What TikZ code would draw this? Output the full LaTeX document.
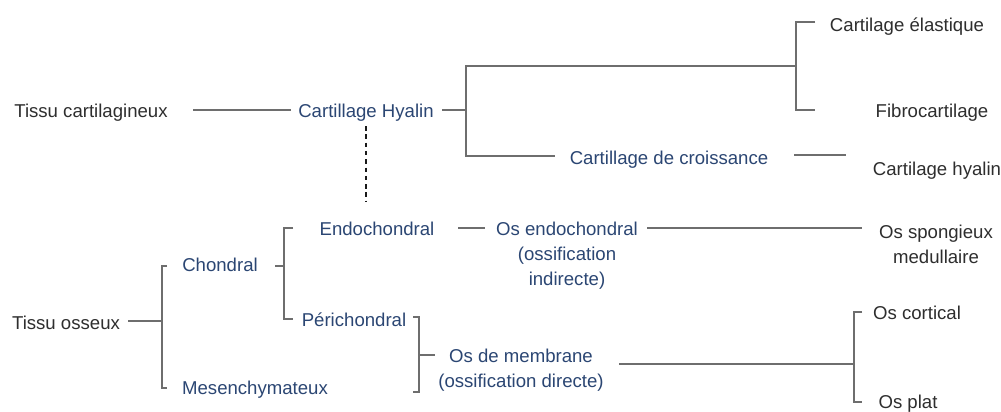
\documentclass[tikz,border=0pt]{standalone}
\usepackage{fontspec}
\setmainfont{Liberation Sans}
\begin{document}
\begin{tikzpicture}[x=1pt,y=-1pt,
  dark/.style={text=txtdark,font=\fontsize{18.6}{25}\selectfont,inner sep=0pt,anchor=mid,yshift=-4.5pt},
  blue/.style={text=txtblue,font=\fontsize{18.6}{25}\selectfont,inner sep=0pt,anchor=mid,yshift=-4.5pt},
  multi/.style={align=center,anchor=center,yshift=2pt},
  conn/.style={draw=linegray,line width=1.2pt},
  dots/.style={draw=black!90,line width=2pt,dash pattern=on 4.5pt off 3.8pt}]
\definecolor{txtdark}{HTML}{2E2E2E}
\definecolor{txtblue}{HTML}{2B4673}
\definecolor{linegray}{HTML}{6E6E6E}
\useasboundingbox[fill=white] (0,0) rectangle (1001,412);
% nodes
\node[dark] (tc) at (91,110) {Tissu cartilagineux};
\node[blue] (chy) at (366,110) {Cartillage Hyalin};
\node[dark] (cel) at (907,24) {Cartilage élastique};
\node[dark] (fib) at (932,110) {Fibrocartilage};
\node[blue] (ccr) at (669,157) {Cartillage de croissance};
\node[dark] (cha) at (937,168) {Cartilage hyalin};
\node[blue] (endo) at (377,228) {Endochondral};
\node[blue] (chon) at (220,264) {Chondral};
\node[blue] (peri) at (354,319) {Périchondral};
\node[dark] (tos) at (66,322) {Tissu osseux};
\node[blue] (mes) at (255,387) {Mesenchymateux};
\node[blue,multi] (osendo) at (567,253) {Os endochondral\\(ossification\\indirecte)};
\node[blue,multi] (osmem) at (521,368) {Os de membrane\\(ossification directe)};
\node[dark,multi] (osspo) at (936,242) {Os spongieux\\medullaire};
\node[dark] (oscor) at (917,312) {Os cortical};
\node[dark] (osplat) at (908,401) {Os plat};
% coordinates
\coordinate (a1) at (193,110); \coordinate (a2) at (291,110);
\coordinate (b1) at (442,110); \coordinate (b2) at (466,110);
\coordinate (bt) at (466,66); \coordinate (bb) at (466,156);
\coordinate (btr) at (796,66); \coordinate (bbr) at (555,156);
\coordinate (ct) at (815,22); \coordinate (cb) at (815,110);
\coordinate (cvt) at (796,22); \coordinate (cvb) at (796,110);
\coordinate (d1) at (794,155); \coordinate (d2) at (846,155);
\coordinate (e1) at (366,126); \coordinate (e2) at (366,201);
\coordinate (f1) at (458,228); \coordinate (f2) at (485,228);
\coordinate (g1) at (647,228); \coordinate (g2) at (862,228);
\coordinate (h1) at (275,266); \coordinate (h2) at (284,266);
\coordinate (ht) at (293,228); \coordinate (hb) at (293,319);
\coordinate (hvt) at (284,228); \coordinate (hvb) at (284,319);
\coordinate (i1) at (128,321); \coordinate (i2) at (162,321);
\coordinate (it) at (167,266); \coordinate (ib) at (167,388);
\coordinate (ivt) at (162,266); \coordinate (ivb) at (162,388);
\coordinate (jt) at (413,317); \coordinate (jb) at (413,392);
\coordinate (jvt) at (419,317); \coordinate (jvb) at (419,392);
\coordinate (jm) at (419,355); \coordinate (jm2) at (435,355);
\coordinate (k1) at (619,364); \coordinate (k2) at (854,364);
\coordinate (kt) at (862,312); \coordinate (kb) at (862,402);
\coordinate (kvt) at (854,312); \coordinate (kvb) at (854,402);
% connectors
\draw[conn] (a1) -- (a2);
\draw[conn] (b1) -- (b2);
\draw[conn] (btr) -- (bt) -- (bb) -- (bbr);
\draw[conn] (ct) -- (cvt) -- (cvb) -- (cb);
\draw[conn] (d1) -- (d2);
\draw[dots] (e1) -- (e2);
\draw[conn] (f1) -- (f2);
\draw[conn] (g1) -- (g2);
\draw[conn] (h1) -- (h2);
\draw[conn] (ht) -- (hvt) -- (hvb) -- (hb);
\draw[conn] (i1) -- (i2);
\draw[conn] (it) -- (ivt) -- (ivb) -- (ib);
\draw[conn] (jt) -- (jvt) -- (jvb) -- (jb);
\draw[conn] (jm) -- (jm2);
\draw[conn] (k1) -- (k2);
\draw[conn] (kt) -- (kvt) -- (kvb) -- (kb);
\end{tikzpicture}
\end{document}
